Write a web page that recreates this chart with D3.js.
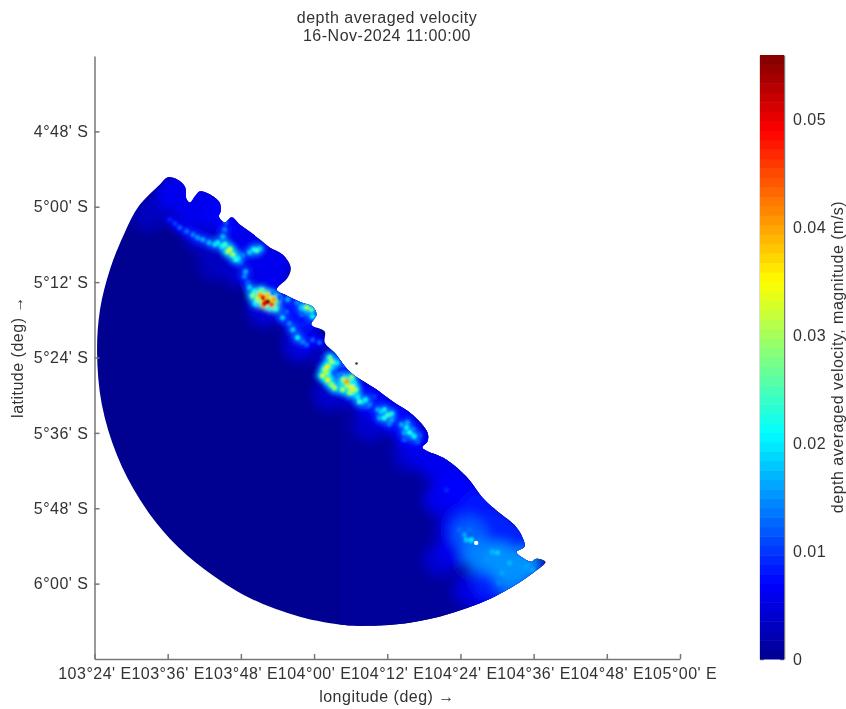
<!DOCTYPE html>
<html>
<head>
<meta charset="utf-8">
<script src="https://cdn.jsdelivr.net/npm/d3@7"></script>
<style>
    body { margin: 0; background: #fff; }
    text { font-family: "Liberation Sans", Arial, sans-serif; fill: #333; }
</style>
</head>
<body>
<svg id="canvas"></svg>
<script>
const titleLines = ["depth averaged velocity", "16-Nov-2024 11:00:00"];
const xTitle = "longitude (deg) \u2192";
const yTitle = "latitude (deg) \u2192";
const colorbarTitle = "depth averaged velocity, magnitude (m/s)";

const lonTicks = [103.4, 103.6, 103.8, 104.0, 104.2, 104.4, 104.6, 104.8, 105.0];
const lonLabels = ["103\u00b024' E", "103\u00b036' E", "103\u00b048' E", "104\u00b000' E", "104\u00b012' E", "104\u00b024' E", "104\u00b036' E", "104\u00b048' E", "105\u00b000' E"];
const latTicks = [-4.8, -5.0, -5.2, -5.4, -5.6, -5.8, -6.0];
const latLabels = ["4\u00b048' S", "5\u00b000' S", "5\u00b012' S", "5\u00b024' S", "5\u00b036' S", "5\u00b048' S", "6\u00b000' S"];
const velTicks = [0, 0.01, 0.02, 0.03, 0.04, 0.05];

// jet colormap stops
const jetStops = ["#00008f", "#0000ff", "#00ffff", "#ffff00", "#ff0000", "#800000"];
const jetDomain = [0, 0.007, 0.021, 0.035, 0.049, 0.056];

// model domain outline, clockwise from the northern tip
const boundaryLon = [103.600, 103.625, 103.647, 103.652, 103.661, 103.674, 103.688, 103.715, 103.742, 103.745, 103.740, 103.756, 103.775, 103.797, 103.824, 103.852, 103.879, 103.914, 103.936, 103.928, 103.898, 103.920, 103.961, 103.996, 104.007, 103.993, 104.029, 104.029, 104.056, 104.097, 104.171, 104.215, 104.269, 104.310, 104.310, 104.296, 104.362, 104.416, 104.465, 104.506, 104.547, 104.569, 104.575, 104.553, 104.566, 104.594, 104.607, 104.632, 104.602, 104.498, 104.370, 104.261, 104.152, 104.083, 103.961, 103.824, 103.702, 103.606, 103.524, 103.461, 103.420, 103.407, 103.415, 103.442, 103.480, 103.521, 103.579];
const boundaryLat = [-4.922, -4.927, -4.946, -4.981, -4.989, -4.973, -4.959, -4.967, -4.989, -5.012, -5.026, -5.042, -5.028, -5.047, -5.066, -5.087, -5.108, -5.127, -5.161, -5.188, -5.220, -5.233, -5.252, -5.265, -5.286, -5.313, -5.331, -5.360, -5.387, -5.437, -5.485, -5.517, -5.552, -5.599, -5.623, -5.639, -5.671, -5.716, -5.777, -5.812, -5.844, -5.876, -5.902, -5.916, -5.929, -5.942, -5.934, -5.942, -5.969, -6.032, -6.080, -6.104, -6.112, -6.110, -6.088, -6.038, -5.963, -5.881, -5.777, -5.658, -5.525, -5.387, -5.273, -5.167, -5.074, -4.999, -4.941];

// offshore field, west and east of the grid seam
const seamLon = [104.07];
const offshoreVel = [0.0001, 0.0007];

// wide nearshore velocities
const broadLon = [103.611, 103.661, 103.702, 103.797, 103.852, 103.885, 103.933, 103.974, 104.056, 104.124, 104.192, 104.247, 104.288, 104.356, 104.411, 104.356, 104.465, 104.520, 104.411, 104.452, 104.534, 104.479, 104.383, 103.551, 103.729,
    103.633, 103.702, 103.756, 103.824, 103.901, 103.879, 103.961, 104.070, 104.165, 104.234, 104.329, 104.397, 104.452, 104.506, 104.547,
    103.688, 103.797, 103.865, 103.961, 104.043, 104.152, 104.261, 104.343, 104.383, 104.343, 104.425, 104.547, 104.479, 104.506, 104.575, 104.425];
const broadLat = [-4.967, -5.012, -5.002, -5.087, -5.145, -5.172, -5.260, -5.313, -5.419, -5.491, -5.538, -5.578, -5.631, -5.698, -5.764, -5.764, -5.830, -5.870, -5.844, -5.924, -5.963, -5.990, -5.910, -5.020, -5.153,
    -4.954, -4.975, -5.020, -5.087, -5.145, -5.199, -5.286, -5.419, -5.512, -5.560, -5.677, -5.745, -5.798, -5.851, -5.884,
    -5.074, -5.167, -5.273, -5.366, -5.498, -5.578, -5.658, -5.777, -5.857, -5.937, -6.016, -6.003, -6.043, -5.937, -5.950, -5.870];
const broadVel = [0.006, 0.006, 0.006, 0.006, 0.006, 0.006, 0.006, 0.006, 0.005, 0.006, 0.006, 0.006, 0.006, 0.006, 0.007, 0.006, 0.008, 0.009, 0.009, 0.014, 0.015, 0.009, 0.006, 0.003, 0.003,
    0.006, 0.006, 0.007, 0.006, 0.006, 0.006, 0.008, 0.007, 0.007, 0.007, 0.006, 0.007, 0.008, 0.009, 0.009,
    0.004, 0.004, 0.005, 0.005, 0.004, 0.004, 0.004, 0.005, 0.006, 0.004, 0.005, 0.012, 0.006, 0.015, 0.015, 0.012];

// local velocity peaks
const peakLon = [103.606, 103.633, 103.669, 103.696, 103.729, 103.748, 103.764, 103.778, 103.792, 103.759, 103.756, 103.751, 103.805, 103.824, 103.843, 103.813, 103.819, 103.838, 103.852, 103.860, 103.873, 103.884, 103.846, 103.887, 103.879, 103.906, 103.928, 103.953, 103.966, 103.980, 103.993, 103.996, 103.966, 103.914, 103.942, 103.955, 103.980, 104.015, 104.048, 104.037, 104.034, 104.037, 104.048, 104.062, 104.056, 104.089, 104.092, 104.078, 104.103, 104.105, 104.119, 104.103, 104.133, 104.146, 104.165, 104.152, 104.184, 104.201, 104.192, 104.212, 104.253, 104.261, 104.274, 104.247, 104.269, 104.283, 104.362, 104.397, 104.411, 104.416, 104.487, 104.501, 104.534, 104.580, 104.514, 104.471, 104.597, 104.506, 104.425, 104.430,
    103.824, 103.832, 103.857, 103.873, 103.890, 103.865, 103.895, 103.840,
    104.043, 104.029, 104.023, 104.056, 104.070, 104.081, 104.097, 104.113, 104.124, 104.141, 104.083, 104.108,
    104.174, 104.192, 104.212, 104.179, 104.206, 104.239, 104.255, 104.272, 104.247, 104.288,
    103.620, 103.652, 103.682, 103.713, 103.737, 103.770, 103.786, 103.797, 103.756, 103.835, 103.852,
    103.810, 103.925, 103.933, 103.969, 103.996];
const peakLat = [-5.034, -5.055, -5.074, -5.087, -5.100, -5.105, -5.119, -5.127, -5.137, -5.042, -5.060, -5.079, -5.129, -5.121, -5.116, -5.172, -5.201, -5.225, -5.233, -5.241, -5.252, -5.260, -5.246, -5.228, -5.267, -5.241, -5.246, -5.254, -5.267, -5.267, -5.273, -5.291, -5.286, -5.294, -5.326, -5.347, -5.366, -5.360, -5.411, -5.424, -5.440, -5.459, -5.472, -5.414, -5.440, -5.464, -5.475, -5.485, -5.480, -5.493, -5.504, -5.453, -5.517, -5.530, -5.504, -5.525, -5.544, -5.552, -5.560, -5.565, -5.586, -5.599, -5.610, -5.599, -5.591, -5.623, -5.751, -5.857, -5.870, -5.884, -5.916, -5.918, -5.945, -5.955, -5.971, -5.937, -5.963, -5.998, -5.857, -5.884,
    -5.214, -5.236, -5.222, -5.236, -5.246, -5.257, -5.270, -5.257,
    -5.400, -5.432, -5.448, -5.480, -5.446, -5.459, -5.493, -5.485, -5.517, -5.512, -5.419, -5.469,
    -5.538, -5.538, -5.549, -5.560, -5.576, -5.578, -5.573, -5.607, -5.618, -5.607,
    -5.044, -5.065, -5.082, -5.095, -5.095, -5.113, -5.140, -5.145, -5.100, -5.113, -5.111,
    -5.185, -5.278, -5.310, -5.358, -5.353];
const peakVel = [0.008, 0.012, 0.014, 0.016, 0.019, 0.02, 0.03, 0.03, 0.02, 0.012, 0.014, 0.017, 0.014, 0.018, 0.024, 0.016, 0.012, 0.022, 0.04, 0.05, 0.055, 0.045, 0.03, 0.014, 0.02, 0.012, 0.016, 0.014, 0.018, 0.03, 0.025, 0.02, 0.012, 0.018, 0.018, 0.02, 0.012, 0.012, 0.03, 0.036, 0.03, 0.036, 0.03, 0.02, 0.012, 0.04, 0.03, 0.03, 0.036, 0.025, 0.02, 0.028, 0.018, 0.012, 0.01, 0.014, 0.018, 0.024, 0.022, 0.016, 0.02, 0.022, 0.018, 0.016, 0.014, 0.012, 0.009, 0.013, 0.016, 0.018, 0.017, 0.018, 0.017, 0.016, 0.016, 0.015, 0.016, 0.014, 0.013, 0.02,
    0.018, 0.028, 0.026, 0.038, 0.04, 0.05, 0.024, 0.02,
    0.026, 0.03, 0.032, 0.03, 0.014, 0.03, 0.03, 0.03, 0.024, 0.02, 0.012, 0.02,
    0.016, 0.02, 0.02, 0.016, 0.014, 0.016, 0.016, 0.02, 0.012, 0.012,
    0.01, 0.013, 0.015, 0.017, 0.02, 0.032, 0.022, 0.014, 0.024, 0.02, 0.018,
    0.014, 0.012, 0.014, 0.014, 0.012];

const islandLon = [104.443];
const islandLat = [-5.892];
const rockLon = [104.116];
const rockLat = [-5.416];

const width = 846;
const height = 709;
const axisColor = "#777";
const fontSize = 16;
const letterSpacing = "0.5px";

const canvas = d3.select("#canvas")
    .attr("width", width)
    .attr("height", height);

const xScale = d3.scaleLinear().domain([103.4, 105.0]).range([94.5, 680]);
const yScale = d3.scaleLinear().domain([-4.6, -6.2]).range([56, 659]);
const velScale = d3.scaleLinear().domain([0, 0.056]).range([659, 55]);
const jet = d3.scaleLinear().domain(jetDomain).range(jetStops);

const defs = canvas.append("defs");
const addBlur = (id, amount) => defs.append("filter").attr("id", id)
    .attr("x", "-20%").attr("y", "-20%").attr("width", "140%").attr("height", "140%")
    .append("feGaussianBlur").attr("stdDeviation", amount);
addBlur("blur-wide", 6);
addBlur("blur-glow", 2.6);
addBlur("blur-peak", 1.1);
addBlur("blur-edge", 0.7);
addBlur("blur-text", 0.45);

const outline = d3.line()
    .x(i => xScale(boundaryLon[i]))
    .y(i => yScale(boundaryLat[i]))
    .curve(d3.curveCatmullRomClosed.alpha(0.5));
const outlinePath = outline(d3.range(boundaryLon.length));

defs.append("clipPath").attr("id", "domain-clip")
    .append("path").attr("d", outlinePath);

//Draws the velocity field inside the model domain
const field = canvas.append("g").attr("filter", "url(#blur-edge)")
    .append("g").attr("clip-path", "url(#domain-clip)");

field.append("rect")
    .attr("x", 90).attr("y", 150)
    .attr("width", 500).attr("height", 500)
    .attr("fill", jet(offshoreVel[0]));
field.append("rect")
    .attr("x", xScale(seamLon[0])).attr("y", 150)
    .attr("width", 300).attr("height", 500)
    .attr("fill", jet(offshoreVel[1]));

const byVel = vel => d3.range(vel.length).sort((a, b) => d3.ascending(vel[a], vel[b]));

field.append("g").attr("filter", "url(#blur-wide)")
    .selectAll("circle")
    .data(byVel(broadVel))
    .enter()
    .append("circle")
    .attr("cx", i => xScale(broadLon[i]))
    .attr("cy", i => yScale(broadLat[i]))
    .attr("r", 17)
    .attr("fill", i => jet(broadVel[i]));

//Soft halo under the peaks, left out in the brighter southeast corner
//where it would come out darker than the water around it
field.append("g").attr("filter", "url(#blur-glow)")
    .selectAll("circle")
    .data(byVel(peakVel).filter(i => peakLat[i] > -5.7))
    .enter()
    .append("circle")
    .attr("cx", i => xScale(peakLon[i]))
    .attr("cy", i => yScale(peakLat[i]))
    .attr("r", 6)
    .attr("fill", i => jet(peakVel[i] * 0.6));

field.append("g").attr("filter", "url(#blur-peak)")
    .selectAll("circle")
    .data(byVel(peakVel))
    .enter()
    .append("circle")
    .attr("cx", i => xScale(peakLon[i]))
    .attr("cy", i => yScale(peakLat[i]))
    .attr("r", 2.6)
    .attr("fill", i => jet(peakVel[i]));

canvas.selectAll(".island")
    .data(islandLon)
    .enter()
    .append("circle")
    .attr("class", "island")
    .attr("cx", d => xScale(d))
    .attr("cy", (d, i) => yScale(islandLat[i]))
    .attr("r", 2.2)
    .attr("fill", "#fff");
canvas.selectAll(".rock")
    .data(rockLon)
    .enter()
    .append("circle")
    .attr("class", "rock")
    .attr("cx", d => xScale(d))
    .attr("cy", (d, i) => yScale(rockLat[i]))
    .attr("r", 1.3)
    .attr("fill", "#333");

//Draws the axes
const xAxis = d3.axisBottom(xScale)
    .tickValues(lonTicks)
    .tickFormat((d, i) => lonLabels[i])
    .tickSizeInner(-5)
    .tickSizeOuter(0)
    .tickPadding(9);
const yAxis = d3.axisLeft(yScale)
    .tickValues(latTicks)
    .tickFormat((d, i) => latLabels[i])
    .tickSizeInner(-5)
    .tickSizeOuter(0)
    .tickPadding(6);

const axes = canvas.append("g").attr("filter", "url(#blur-text)");
axes.append("g")
    .attr("transform", `translate(0, ${yScale.range()[1]})`)
    .call(xAxis);
axes.append("g")
    .attr("transform", `translate(${xScale.range()[0]}, 0)`)
    .call(yAxis);

//Draws the colorbar, one rect for each of the 64 colormap levels
const barX = 760;
const barWidth = 24;
const levels = d3.range(64);
const levelVel = d3.scaleLinear().domain([0, 64]).range([0, 0.056]);

canvas.append("g")
    .selectAll("rect")
    .data(levels)
    .enter()
    .append("rect")
    .attr("x", barX)
    .attr("y", d => velScale(levelVel(d + 1)))
    .attr("width", barWidth)
    .attr("height", d => velScale(levelVel(d)) - velScale(levelVel(d + 1)) + 0.5)
    .attr("fill", d => jet(levelVel(d + 0.5)));

const barRight = d3.axisRight(velScale)
    .tickValues(velTicks)
    .tickFormat(d => d === 0 ? "0" : d3.format(".2f")(d))
    .tickSizeInner(-4)
    .tickSizeOuter(0)
    .tickPadding(9);
const barLeft = d3.axisLeft(velScale)
    .tickValues(velTicks)
    .tickFormat("")
    .tickSizeInner(-4)
    .tickSizeOuter(0);

const barAxes = axes.append("g");
barAxes.append("g").attr("transform", `translate(${barX + barWidth}, 0)`).call(barRight);
barAxes.append("g").attr("transform", `translate(${barX}, 0)`).call(barLeft);

axes.selectAll(".domain, .tick line")
    .attr("stroke", axisColor)
    .attr("stroke-width", 1.5);
axes.selectAll(".tick text")
    .attr("font-size", fontSize)
    .style("letter-spacing", letterSpacing)
    .style("font-family", '"Liberation Sans", Arial, sans-serif');

//Titles and axis labels
axes.selectAll(".title")
    .data(titleLines)
    .enter()
    .append("text")
    .attr("class", "title")
    .attr("x", 387)
    .attr("y", (d, i) => 23 + i * 18)
    .attr("text-anchor", "middle")
    .attr("font-size", fontSize)
    .style("letter-spacing", letterSpacing)
    .text(d => d);

axes.append("text")
    .attr("x", 387).attr("y", 702)
    .attr("text-anchor", "middle")
    .attr("font-size", fontSize)
    .style("letter-spacing", letterSpacing)
    .text(xTitle);

axes.append("text")
    .attr("transform", "translate(23, 357) rotate(-90)")
    .attr("text-anchor", "middle")
    .attr("font-size", fontSize)
    .style("letter-spacing", letterSpacing)
    .text(yTitle);

axes.append("text")
    .attr("transform", "translate(843, 357) rotate(-90)")
    .attr("text-anchor", "middle")
    .attr("font-size", fontSize)
    .style("letter-spacing", "0.5px")
    .text(colorbarTitle);
</script>
</body>
</html>
